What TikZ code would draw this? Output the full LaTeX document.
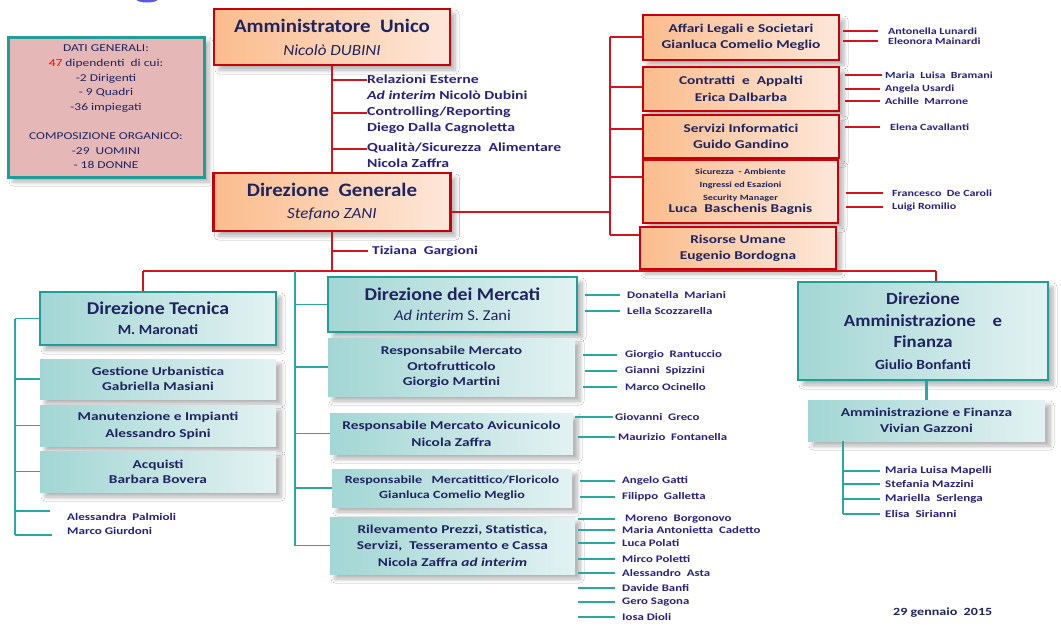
\documentclass[tikz,border=0pt]{standalone}
\usepackage{fontspec}
\setmainfont{Carlito}[FakeStretch=1.1]
\newfontfamily\sm{Carlito}[FakeStretch=1.28]
\usetikzlibrary{shadows,shadows.blur}
\definecolor{ink}{HTML}{1F2460}
\definecolor{ink2}{HTML}{2A2080}
\definecolor{rl}{HTML}{D3141C}
\definecolor{bred}{HTML}{C8000A}
\definecolor{or1}{HTML}{FBBC8C}
\definecolor{or2}{HTML}{FDE7D9}
\definecolor{tl}{HTML}{1E9E96}
\definecolor{tln}{HTML}{2AA8A0}
\definecolor{te1}{HTML}{A2D6D4}
\definecolor{te2}{HTML}{E3F2F2}
\definecolor{pinkfill}{HTML}{E5B8B7}
\definecolor{titleblue}{HTML}{3C3CE0}
\tikzset{
 shd/.style={blur shadow={shadow xshift=5pt,shadow yshift=-5pt,shadow blur radius=4pt,shadow blur steps=8,shadow opacity=30}},
 obox/.style={shd,draw=bred,line width=2.6pt,left color=or1,right color=or2,inner sep=0pt,align=center,text=ink},
 tbox/.style={shd,draw=tl,line width=2.8pt,left color=te1,right color=te2,inner sep=0pt,align=center,text=ink},
 sbox/.style={shd,left color=te1,right color=te2,inner sep=0pt,align=center,text=ink},
 ibox/.style={shd,draw=tl,line width=3pt,fill=pinkfill,inner sep=0pt,align=center,text=ink},
 rline/.style={draw=rl,line width=1.4pt},
 tline/.style={draw=tln,line width=1.4pt},
 person/.style={inner sep=0pt,anchor=west,text=ink2,font=\sm\bfseries\fontsize{9.4}{10}\selectfont},
 personM/.style={person,font=\sm\bfseries\fontsize{10}{10.5}\selectfont},
 personL/.style={person,font=\sm\bfseries\fontsize{10.2}{11}\selectfont},
 branch/.style={person,font=\sm\bfseries\fontsize{12.3}{16}\selectfont,align=left},
}
% id, line style, x line start, x line end, x text, y, text, person style
\newcommand\pers[8]{%
 \node[#8] (#1) at (#5,#6) {#7};
 \coordinate (#1l) at (#3,#6);
 \draw[#2] (#1l) -- ([xshift={(#4-#5)*1pt}]#1.west);
}
\begin{document}
\begin{tikzpicture}[x=1pt,y=-1pt]
\fill[white] (0,0) rectangle (1061,625);
\useasboundingbox (0,0) rectangle (1061,625);

% fragment of a cut-off title letter at the top edge
\fill[titleblue,opacity=0.85] (147,-1) ellipse (11 and 3.5);

% ---------- info box
\node[ibox,minimum width=196pt,minimum height=140pt,font=\sm\fontsize{10.5}{14.6}\selectfont] (info) at (106,107)
 {DATI GENERALI:\\{\color{red}47} dipendenti\ \ di cui:\\-2 Dirigenti\\- 9 Quadri\\-36 impiegati\\[14.6pt]COMPOSIZIONE ORGANICO:\\-29\ \ UOMINI\\- 18 DONNE};

% ---------- top
\node[obox,minimum width=236pt,minimum height=56pt,font=\bfseries\fontsize{19}{23}\selectfont] (au) at (332,37)
 {Amministratore\ \ Unico\\{\mdseries\itshape\fontsize{15.5}{23}\selectfont Nicolò DUBINI}};
\node[obox,minimum width=237pt,minimum height=58pt,font=\bfseries\fontsize{19}{22}\selectfont] (dg) at (332,202)
 {Direzione\ \ Generale\\{\mdseries\itshape\fontsize{15.5}{22}\selectfont Stefano ZANI}};
\draw[rline] (au.south) -- (dg.north);

\node[branch] (re) at (367,87) {Relazioni Esterne\\\textit{Ad interim} Nicolò Dubini};
\node[branch] (cr) at (367,120) {Controlling/Reporting\\Diego Dalla Cagnoletta};
\node[branch] (qs) at (367,155.5) {Qualità/Sicurezza\ \ Alimentare\\Nicola Zaffra};
\coordinate (ab1) at (332,80);
\coordinate (ab2) at (332,113);
\coordinate (ab3) at (332,149);
\draw[rline] (ab1) -- (ab1 -| re.west);
\draw[rline] (ab2) -- (ab2 -| cr.west);
\draw[rline] (ab3) -- (ab3 -| qs.west);

\node[person,font=\sm\bfseries\fontsize{12}{13}\selectfont] (tg) at (372,251) {Tiziana\ \ Gargioni};
\coordinate (tb) at (332,251);
\draw[rline] (tb) -- ([xshift=-4pt]tg.west);

% ---------- right staff boxes
\node[obox,minimum width=196pt,minimum height=45pt,font=\sm\bfseries\fontsize{12}{16}\selectfont] (aff) at (741,37.5) {Affari Legali e Societari\\Gianluca Comelio Meglio};
\node[obox,minimum width=196pt,minimum height=44pt,font=\sm\bfseries\fontsize{12}{16.5}\selectfont] (con) at (741,89) {Contratti\ \ e\ \ Appalti\\Erica Dalbarba};
\node[obox,minimum width=196pt,minimum height=43pt,font=\sm\bfseries\fontsize{12}{16}\selectfont] (ser) at (741,136.5) {Servizi Informatici\\Guido Gandino};
\node[obox,minimum width=195pt,minimum height=63pt,font=\sm\bfseries\fontsize{8}{13}\selectfont] (sic) at (740.5,191.5) {Sicurezza\ \ - Ambiente\\Ingressi ed Esazioni\\Security Manager\\[-1pt]{\fontsize{12}{14}\selectfont Luca\ \ Baschenis Bagnis}};
\node[obox,minimum width=196pt,minimum height=42pt,font=\sm\bfseries\fontsize{12}{16}\selectfont] (ris) at (738,248) {Risorse Umane\\Eugenio Bordogna};

\coordinate (r1) at (610,37);
\coordinate (r2) at (610,87);
\coordinate (r3) at (610,129);
\coordinate (r4) at (610,177);
\coordinate (r5) at (610,235);
\coordinate (dgr) at (610,212);
\draw[rline] (r1) -- (r5);
\draw[rline] (r1) -- (aff.west |- r1);
\draw[rline] (r2) -- (con.west |- r2);
\draw[rline] (r3) -- (ser.west |- r3);
\draw[rline] (r4) -- (sic.west |- r4);
\draw[rline] (r5) -- (ris.west |- r5);
\draw[rline] (dg.east |- dgr) -- (dgr);

\pers{p1}{rline}{843}{878}{888}{31}{Antonella Lunardi}{person}
\pers{p2}{rline}{843}{878}{888}{41}{Eleonora Mainardi}{person}
\pers{p3}{rline}{845}{882}{885}{75}{Maria\ \ Luisa\ \ Bramani}{person}
\pers{p4}{rline}{845}{880}{885}{89}{Angela Usardi}{person}
\pers{p5}{rline}{845}{880}{885}{101}{Achille\ \ Marrone}{person}
\pers{p6}{rline}{845}{880}{890}{127}{Elena Cavallanti}{person}
\pers{p7}{rline}{846}{883}{892}{193}{Francesco\ \ De Caroli}{person}
\pers{p8}{rline}{846}{883}{892}{207}{Luigi Romilio}{person}

% ---------- main bar
\node[tbox,minimum width=236pt,minimum height=53pt,font=\bfseries\fontsize{18}{20}\selectfont] (dt) at (158,318.5) {Direzione Tecnica\\{\fontsize{14}{20}\selectfont M. Maronati}};
\node[tbox,minimum width=249pt,minimum height=55pt,font=\bfseries\fontsize{18}{20}\selectfont] (dm) at (452.5,304.5) {Direzione dei Mercati\\{\mdseries\fontsize{15}{20}\selectfont\textit{Ad interim} S. Zani}};
\node[tbox,minimum width=250pt,minimum height=98pt,font=\bfseries\fontsize{17}{21.5}\selectfont] (daf) at (923,331) {Direzione\\Amministrazione\ \ \ \ e\\Finanza\\{\fontsize{14}{21.5}\selectfont Giulio Bonfanti}};

\coordinate (barL) at (143,271);
\coordinate (barM) at (332,271);
\coordinate (barR) at (936,271);
\draw[rline] (dg.south) -- (barM);
\draw[rline] (barL) -- (barR);
\draw[rline] (barL) -- (barL |- dt.north);
\draw[rline] (barR) -- (barR |- daf.north);

% ---------- Direzione Tecnica
\node[sbox,minimum width=236pt,minimum height=40pt,font=\sm\bfseries\fontsize{12}{15}\selectfont] (gu) at (158,379) {Gestione Urbanistica\\Gabriella Masiani};
\node[sbox,minimum width=236pt,minimum height=41pt,font=\sm\bfseries\fontsize{12}{16.5}\selectfont] (mi) at (158,425.5) {Manutenzione e Impianti\\Alessandro Spini};
\node[sbox,minimum width=236pt,minimum height=41pt,font=\sm\bfseries\fontsize{12}{15}\selectfont] (acq) at (158,471.5) {Acquisti\\Barbara Bovera};
\coordinate (dtt) at (15,318.5);
\coordinate (dtb) at (15,535);
\draw[tline] (dtt) -- (dtb);
\draw[tline] (dtt) -- (dt.west);
\draw[tline] (gu.west -| dtt) -- (gu.west);
\draw[tline] (mi.west -| dtt) -- (mi.west);
\draw[tline] (acq.west -| dtt) -- (acq.west);
\node[personL] (ap) at (67,517) {Alessandra\ \ Palmioli};
\node[personL] (mg) at (67,531) {Marco Giurdoni};
\coordinate (apl) at (15,511);
\draw[tline] (apl) -- ++(35,0) coordinate (ape);
\draw[tline] (dtb) -- ++(37,0) coordinate (mge);

% ---------- Direzione dei Mercati
\node[sbox,minimum width=247pt,minimum height=58pt,font=\sm\bfseries\fontsize{12}{15.5}\selectfont] (orto) at (451.5,367) {Responsabile Mercato\\Ortofrutticolo\\Giorgio Martini};
\node[sbox,minimum width=243pt,minimum height=41pt,font=\sm\bfseries\fontsize{12}{17}\selectfont] (avi) at (451.5,433.5) {Responsabile Mercato Avicunicolo\\Nicola Zaffra};
\node[sbox,minimum width=240pt,minimum height=38pt,font=\sm\bfseries\fontsize{11}{15}\selectfont] (itt) at (452,488) {Responsabile\ \ \ Mercatittico/Floricolo\\Gianluca Comelio Meglio};
\node[sbox,minimum width=245pt,minimum height=57pt,font=\sm\bfseries\fontsize{12}{16.5}\selectfont] (ril) at (452.5,545.5) {Rilevamento Prezzi, Statistica,\\Servizi,\ \ Tesseramento e Cassa\\Nicola Zaffra \textit{ad interim}};
\coordinate (mt) at (295,271);
\coordinate (mb) at (295,545.5);
\draw[tline] (mt) -- (mb);
\draw[tline] (dm.west -| mt) -- (dm.west);
\draw[tline] (orto.west -| mt) -- (orto.west);
\draw[tline] (avi.west -| mt) -- (avi.west);
\draw[tline] (itt.west -| mt) -- (itt.west);
\draw[tline] (ril.west -| mt) -- (ril.west);

\pers{m1}{tline}{585}{620}{627}{295}{Donatella\ \ Mariani}{personM}
\pers{m2}{tline}{585}{620}{627}{311}{Lella Scozzarella}{personM}
\pers{m3}{tline}{583}{617}{625}{355}{Giorgio\ \ Rantuccio}{personM}
\pers{m4}{tline}{585}{617}{625}{371}{Gianni\ \ Spizzini}{personM}
\pers{m5}{tline}{583}{617}{625}{387}{Marco Ocinello}{personM}
\pers{m6}{tline}{575}{613}{615}{417}{Giovanni\ \ Greco}{personM}
\pers{m7}{tline}{578}{615}{618}{437}{Maurizio\ \ Fontanella}{personM}
\pers{m8}{tline}{580}{615}{622}{481}{Angelo Gatti}{personM}
\pers{m9}{tline}{580}{615}{622}{497}{Filippo\ \ Galletta}{personM}
\pers{s1}{tline}{578}{615}{625}{519}{Moreno\ \ Borgonovo}{personM}
\pers{s2}{tline}{578}{615}{622}{530}{Maria Antonietta\ \ Cadetto}{personM}
\pers{s3}{tline}{578}{615}{622}{543}{Luca Polati}{personM}
\pers{s4}{tline}{578}{615}{622}{559}{Mirco Poletti}{personM}
\pers{s5}{tline}{578}{615}{622}{573}{Alessandro\ \ Asta}{personM}
\pers{s6}{tline}{578}{615}{622}{588}{Davide Banfi}{personM}
\pers{s7}{tline}{578}{615}{622}{602}{Gero Sagona}{personM}
\pers{s8}{tline}{578}{615}{622}{617}{Iosa Dioli}{personM}

% ---------- Amministrazione e Finanza
\node[sbox,minimum width=237pt,minimum height=41pt,font=\sm\bfseries\fontsize{12}{15.5}\selectfont] (af) at (926.5,420.5) {Amministrazione e Finanza\\Vivian Gazzoni};
\draw[tline,line width=3pt] (af.north |- daf.south) -- (af.north);
\coordinate (aft) at (843,441);
\coordinate (afb) at (843,514);
\draw[tline] (aft) -- (afb);
\pers{a1}{tline}{843}{880}{885}{471}{Maria Luisa Mapelli}{personL}
\pers{a2}{tline}{843}{880}{885}{484}{Stefania Mazzini}{personL}
\pers{a3}{tline}{843}{880}{885}{499}{Mariella\ \ Serlenga}{personL}
\pers{a4}{tline}{843}{880}{885}{514}{Elisa\ \ Sirianni}{personL}

% ---------- date
\node[inner sep=0pt,anchor=west,text=ink,font=\sm\bfseries\fontsize{11}{12}\selectfont] (date) at (893,613) {29 gennaio\ \ 2015};
\end{tikzpicture}
\end{document}
